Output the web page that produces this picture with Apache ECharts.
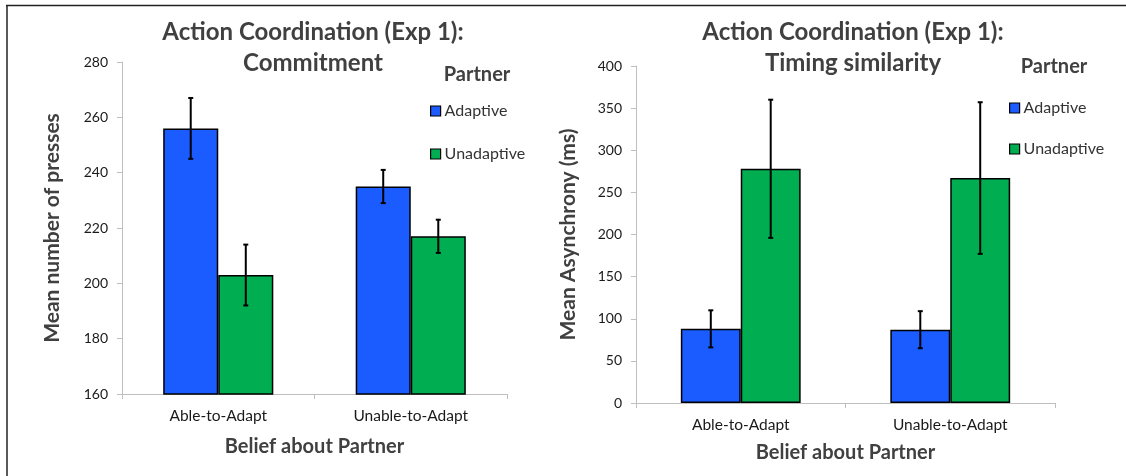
<!DOCTYPE html>
<html>
<head>
<meta charset="utf-8">
<script src="https://cdn.jsdelivr.net/npm/echarts@6/dist/echarts.min.js"></script>
<style>
html,body{margin:0;padding:0;background:#fff;}
#chart{width:1126px;height:476px;}
</style>
</head>
<body>
<div id="chart"></div>
<script>
// ---- data ----
var categories = ['Able-to-Adapt', 'Unable-to-Adapt'];
var seriesNames = ['Adaptive', 'Unadaptive'];
// Commitment (mean number of presses)
var commitAdaptive = [256, 235];
var commitAdaptiveErr = [11, 6];
var commitUnadaptive = [203, 217];
var commitUnadaptiveErr = [11, 6];
var commitTicks = [160, 180, 200, 220, 240, 260, 280];
// Timing similarity (mean asynchrony, ms)
var timingAdaptive = [88, 87];
var timingAdaptiveErr = [22, 22];
var timingUnadaptive = [278, 267];
var timingUnadaptiveErr = [82, 90];
var timingTicks = [0, 50, 100, 150, 200, 250, 300, 350, 400];

var BLUE = '#1A5CFF', GREEN = '#00AD50';
var TXT = '#404040';
var FONT = 'Lato';
var BAR_PCT = 0.286;

var chart = echarts.init(document.getElementById('chart'));

function errData(vals, errs, side) {
  return vals.map(function (v, i) { return [i, v - errs[i], v + errs[i], side]; });
}
function errRender(params, api) {
  var cat = api.value(0), lo = api.value(1), hi = api.value(2), side = api.value(3);
  var bw = api.size([1, 0])[0] * BAR_PCT;
  var c = api.coord([cat, hi]);
  var x = c[0] + (side ? 1 : -1) * bw / 2;
  var yHi = c[1];
  var yLo = api.coord([cat, lo])[1];
  var st = { stroke: '#000', lineWidth: 2 };
  var cap = 2.5;
  return {
    type: 'group',
    children: [
      { type: 'line', shape: { x1: x, y1: yHi, x2: x, y2: yLo }, style: st },
      { type: 'line', shape: { x1: x - cap, y1: yHi, x2: x + cap, y2: yHi }, style: st },
      { type: 'line', shape: { x1: x - cap, y1: yLo, x2: x + cap, y2: yLo }, style: st }
    ]
  };
}

function xAxisCfg(gridIndex, labelMargin, nameGap) {
  return {
    type: 'category', gridIndex: gridIndex, data: categories,
    name: 'Belief about Partner', nameLocation: 'middle', nameGap: nameGap,
    nameTextStyle: { fontFamily: FONT, fontWeight: 'bold', fontSize: 20, color: TXT },
    axisLine: { lineStyle: { color: '#BFBFBF', width: 1 } },
    axisTick: { show: true, length: 5, lineStyle: { color: '#BFBFBF' } },
    axisLabel: { fontFamily: FONT, fontSize: 15.5, color: '#1a1a1a', margin: labelMargin }
  };
}
function yAxisCfg(gridIndex, ticks, name, nameGap) {
  return {
    type: 'value', gridIndex: gridIndex,
    min: ticks[0], max: ticks[ticks.length - 1], interval: ticks[1] - ticks[0],
    name: name, nameLocation: 'middle', nameGap: nameGap,
    nameTextStyle: { fontFamily: FONT, fontWeight: 'bold', fontSize: 21, color: TXT },
    axisLine: { show: true, lineStyle: { color: '#BFBFBF', width: 1 } },
    axisTick: { show: true, length: 5, lineStyle: { color: '#BFBFBF' } },
    splitLine: { show: false },
    axisLabel: { fontFamily: FONT, fontSize: 14, color: '#1a1a1a', margin: 14 }
  };
}
function barSeries(name, data, color, axisIdx) {
  return {
    type: 'bar', name: name, data: data,
    xAxisIndex: axisIdx, yAxisIndex: axisIdx,
    barWidth: (BAR_PCT * 100) + '%', barGap: '0%',
    itemStyle: { color: color, borderColor: '#000', borderWidth: 1.5 },
    emphasis: { disabled: true }
  };
}
function errSeries(vals, errs, side, axisIdx) {
  return {
    type: 'custom', xAxisIndex: axisIdx, yAxisIndex: axisIdx,
    data: errData(vals, errs, side), renderItem: errRender, z: 5, silent: true
  };
}
function legendCfg(left, top, gap) {
  return {
    data: seriesNames, orient: 'vertical', left: left, top: top,
    itemWidth: 10, itemHeight: 10, itemGap: gap, icon: 'rect',
    itemStyle: { borderColor: '#000', borderWidth: 1.2 },
    textStyle: { fontFamily: FONT, fontSize: 16, color: '#333', padding: [0, 0, 0, -1] },
    selectedMode: false
  };
}
var titleStyle = { fontFamily: FONT, fontWeight: 'bold', fontSize: 24, color: TXT, lineHeight: 31 };
var partnerStyle = { fontFamily: FONT, fontWeight: 'bold', fontSize: 20, color: TXT };

var option = {
  backgroundColor: '#fff',
  animation: false,
  title: [
    { text: 'Action Coordination (Exp 1):\nCommitment', left: 308, top: 12, textAlign: 'center', textStyle: titleStyle },
    { text: 'Action Coordination (Exp 1):\nTiming similarity', left: 848, top: 12, textAlign: 'center', textStyle: titleStyle },
    { text: 'Partner', left: 472, top: 60, textAlign: 'center', textStyle: partnerStyle },
    { text: 'Partner', left: 1049, top: 52, textAlign: 'center', textStyle: partnerStyle }
  ],
  legend: [legendCfg(425, 98, 27), legendCfg(1004, 95, 25)],
  grid: [
    { left: 122, top: 62, width: 385, height: 332 },
    { left: 636, top: 66, width: 419, height: 337 }
  ],
  xAxis: [xAxisCfg(0, 14, 43), xAxisCfg(1, 14, 40)],
  yAxis: [
    yAxisCfg(0, commitTicks, 'Mean number of presses', 59),
    yAxisCfg(1, timingTicks, 'Mean Asynchrony (ms)', 57)
  ],
  series: [
    barSeries('Adaptive', commitAdaptive, BLUE, 0),
    barSeries('Unadaptive', commitUnadaptive, GREEN, 0),
    errSeries(commitAdaptive, commitAdaptiveErr, 0, 0),
    errSeries(commitUnadaptive, commitUnadaptiveErr, 1, 0),
    barSeries('Adaptive', timingAdaptive, BLUE, 1),
    barSeries('Unadaptive', timingUnadaptive, GREEN, 1),
    errSeries(timingAdaptive, timingAdaptiveErr, 0, 1),
    errSeries(timingUnadaptive, timingUnadaptiveErr, 1, 1)
  ],
  graphic: [
    { type: 'line', shape: { x1: 6, y1: 5.5, x2: 1126, y2: 5.5 }, style: { stroke: '#222', lineWidth: 1.5 }, silent: true },
    { type: 'line', shape: { x1: 7, y1: 5, x2: 7, y2: 476 }, style: { stroke: '#222', lineWidth: 1.5 }, silent: true }
  ]
};
chart.setOption(option);
</script>
</body>
</html>
